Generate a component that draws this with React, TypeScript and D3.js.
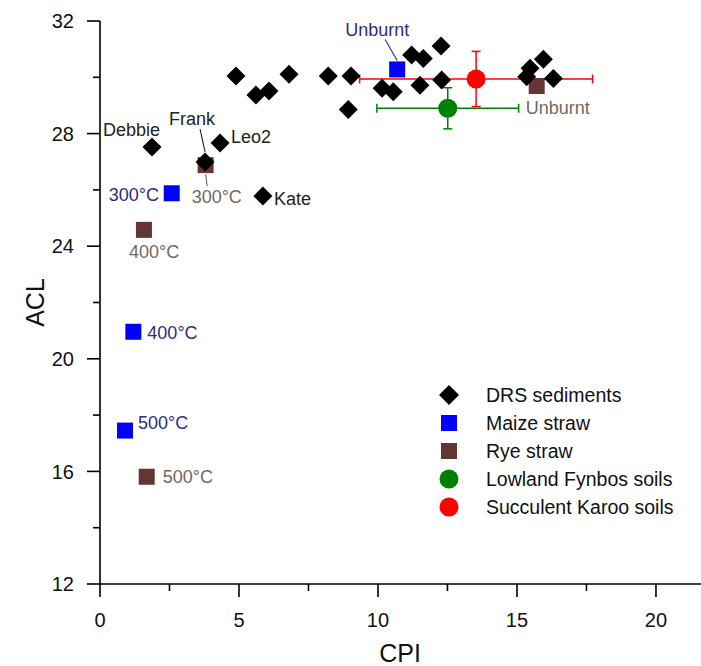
import React from "react";
import * as d3 from "d3";

// DRS sediment samples (CPI, ACL)
const drsCPI = [1.87, 3.78, 4.32, 5.86, 4.89, 5.61, 6.08, 6.8, 8.21, 9.03, 8.93, 10.15, 10.55, 11.21, 11.63, 12.27, 11.51, 12.29, 15.47, 15.95, 15.35, 16.31];
const drsACL = [27.52, 26.99, 27.67, 25.78, 30.05, 29.37, 29.51, 30.11, 30.05, 30.05, 28.86, 29.61, 29.49, 30.79, 30.67, 31.11, 29.72, 29.9, 30.32, 30.64, 30.02, 29.96];

// Named sediment samples
const namedSamples = ["Debbie", "Frank", "Leo2", "Kate"];

// Combustion series: unburnt, 300, 400, 500 °C
const burnLabels = ["Unburnt", "300°C", "400°C", "500°C"];
const maizeCPI = [10.69, 2.58, 1.2, 0.9];
const maizeACL = [30.28, 25.88, 20.96, 17.45];
const ryeCPI = [15.71, 3.8, 1.58, 1.68];
const ryeACL = [29.69, 26.88, 24.58, 15.81];

// Soil means with standard deviations
const soilNames = ["Lowland Fynbos soils", "Succulent Karoo soils"];
const soilCPI = [12.51, 13.53];
const soilACL = [28.9, 29.94];
const soilCPIerr = [2.55, 4.19];
const soilACLerr = [0.73, 0.98];

const xTicks = [0, 5, 10, 15, 20];
const yTicks = [12, 16, 20, 24, 28, 32];

const FONT = "'Liberation Sans', Arial, sans-serif";
const BLUE = "#0000ff";
const BROWN = "#633533";
const GREEN = "#008000";
const RED = "#ff0000";
const BLUE_TXT = "#2e2c80";
const BROWN_TXT = "#76665f";

export default function App() {
  const W = 701, H = 666;
  const x = d3.scaleLinear().domain([0, 21.62]).range([100, 701]);
  const y = d3.scaleLinear().domain([12, 32]).range([584, 21]);

  const xMinor = d3.range(2.5, 21.6, 5);
  const yMinor = d3.range(14, 32, 4);

  const diamond = (cx: number, cy: number, r = 9.5) =>
    `M${cx},${cy - r}L${cx + r},${cy}L${cx},${cy + r}L${cx - r},${cy}Z`;

  // label offsets relative to marker (dx, dy) — text baseline positions
  const namedOffsets: [number, number, string][] = [
    [-49, -11, "start"],
    [-36, -37, "start"],
    [11, 0, "start"],
    [11, 9, "start"],
  ];
  const maizeOffsets: [number, number][] = [[-52, -33], [-63, 8], [14, 7], [13, -2]];
  const ryeOffsets: [number, number][] = [[-11, 28], [-14, 38], [-15, 28], [16, 6]];

  const sq = 16;

  return (
    <svg width={W} height={H} style={{ display: "block", position: "absolute", left: 0, top: 0, background: "#fff" }} fontFamily={FONT}>
      {/* axes */}
      <g stroke="#000" strokeWidth={1.6} fill="none">
        <line x1={x(0)} x2={x(0)} y1={y(32)} y2={y(12)} />
        <line x1={x(0)} x2={701} y1={y(12)} y2={y(12)} />
        {xTicks.map((t) => (
          <line key={"xt" + t} x1={x(t)} x2={x(t)} y1={y(12)} y2={y(12) + 13} />
        ))}
        {xMinor.map((t) => (
          <line key={"xm" + t} x1={x(t)} x2={x(t)} y1={y(12)} y2={y(12) + 7} />
        ))}
        {yTicks.map((t) => (
          <line key={"yt" + t} x1={x(0) - 13} x2={x(0)} y1={y(t)} y2={y(t)} />
        ))}
        {yMinor.map((t) => (
          <line key={"ym" + t} x1={x(0) - 7} x2={x(0)} y1={y(t)} y2={y(t)} />
        ))}
      </g>
      <g fontSize={20} fill="#111">
        {xTicks.map((t) => (
          <text key={"xl" + t} x={x(t)} y={627} textAnchor="middle">{t}</text>
        ))}
        {yTicks.map((t) => (
          <text key={"yl" + t} x={74} y={y(t)} dy="0.36em" textAnchor="end">{t}</text>
        ))}
      </g>
      <text x={400} y={662} fontSize={25} textAnchor="middle" fill="#111">CPI</text>
      <text transform={`translate(44,${(y(12) + y(32)) / 2}) rotate(-90)`} fontSize={25} textAnchor="middle" fill="#111">ACL</text>

      {/* soil error bars */}
      {soilNames.map((n, i) => {
        const c = i === 0 ? GREEN : RED;
        const cx = x(soilCPI[i]), cy = y(soilACL[i]);
        const x1 = x(soilCPI[i] - soilCPIerr[i]), x2 = x(soilCPI[i] + soilCPIerr[i]);
        const y1 = y(soilACL[i] + soilACLerr[i]), y2 = y(soilACL[i] - soilACLerr[i]);
        return (
          <g key={"err" + n} stroke={c} strokeWidth={1.5}>
            <line x1={x1} x2={x2} y1={cy} y2={cy} />
            <line x1={x1} x2={x1} y1={cy - 4.5} y2={cy + 4.5} />
            <line x1={x2} x2={x2} y1={cy - 4.5} y2={cy + 4.5} />
            <line x1={cx} x2={cx} y1={y1} y2={y2} />
            <line x1={cx - 4.5} x2={cx + 4.5} y1={y1} y2={y1} />
            <line x1={cx - 4.5} x2={cx + 4.5} y1={y2} y2={y2} />
          </g>
        );
      })}
      {soilNames.map((n, i) => (
        <circle key={"soil" + n} cx={x(soilCPI[i])} cy={y(soilACL[i])} r={9.5} fill={i === 0 ? GREEN : RED} />
      ))}

      {/* straw squares */}
      {maizeCPI.map((v, i) => (
        <rect key={"mz" + i} x={x(v) - sq / 2} y={y(maizeACL[i]) - sq / 2} width={sq} height={sq} fill={BLUE} />
      ))}
      {ryeCPI.map((v, i) => (
        <rect key={"ry" + i} x={x(v) - sq / 2} y={y(ryeACL[i]) - sq / 2} width={sq} height={sq} fill={BROWN} />
      ))}

      {/* sediments */}
      {drsCPI.map((v, i) => (
        <path key={"drs" + i} d={diamond(x(v), y(drsACL[i]))} fill="#000" />
      ))}

      {/* leader lines */}
      <g strokeWidth={1.1}>
        <line x1={x(maizeCPI[0]) - 12} y1={y(maizeACL[0]) - 30} x2={x(maizeCPI[0])} y2={y(maizeACL[0]) - 9} stroke={BLUE_TXT} />
        <line x1={x(drsCPI[1]) - 5} y1={y(drsACL[1]) - 33} x2={x(drsCPI[1])} y2={y(drsACL[1]) - 10} stroke="#222" />
        <line x1={x(ryeCPI[1])} y1={y(ryeACL[1]) + 9} x2={x(ryeCPI[1]) + 1.5} y2={y(ryeACL[1]) + 21} stroke={BROWN_TXT} />
      </g>

      {/* point labels */}
      <g fontSize={18}>
        {namedSamples.map((n, i) => (
          <text key={n} x={x(drsCPI[i]) + namedOffsets[i][0]} y={y(drsACL[i]) + namedOffsets[i][1]} fill="#222">{n}</text>
        ))}
        {burnLabels.map((b, i) => (
          <text key={"ml" + b} x={x(maizeCPI[i]) + maizeOffsets[i][0]} y={y(maizeACL[i]) + maizeOffsets[i][1]} fill={BLUE_TXT}>{b}</text>
        ))}
        {burnLabels.map((b, i) => (
          <text key={"rl" + b} x={x(ryeCPI[i]) + ryeOffsets[i][0]} y={y(ryeACL[i]) + ryeOffsets[i][1]} fill={BROWN_TXT}>{b}</text>
        ))}
      </g>

      {/* legend */}
      <g fontSize={19.5} fill="#111">
        {["DRS sediments", "Maize straw", "Rye straw", soilNames[0], soilNames[1]].map((lbl, i) => {
          const ly = 395 + i * 28;
          const lx = 449;
          let mark;
          if (i === 0) mark = <path d={diamond(lx, ly, 10)} fill="#000" />;
          else if (i === 1) mark = <rect x={lx - 8} y={ly - 8} width={16} height={16} fill={BLUE} />;
          else if (i === 2) mark = <rect x={lx - 8} y={ly - 8} width={16} height={16} fill={BROWN} />;
          else mark = <circle cx={lx} cy={ly} r={9.5} fill={i === 3 ? GREEN : RED} />;
          return (
            <g key={lbl}>
              {mark}
              <text x={486} y={ly} dy="0.36em">{lbl}</text>
            </g>
          );
        })}
      </g>
    </svg>
  );
}
